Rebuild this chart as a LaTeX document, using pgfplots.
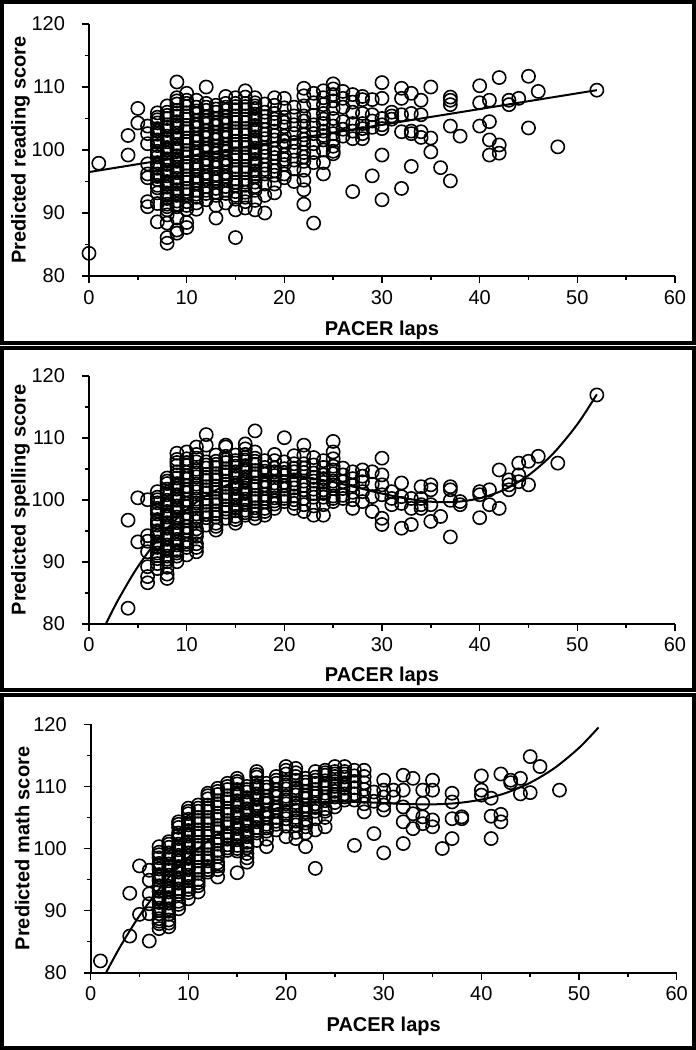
\documentclass[border=0pt]{standalone}
\usepackage{pgfplots}
\pgfplotsset{compat=1.18}
\usepackage{fontspec}
\setmainfont{Liberation Sans}

\pgfplotsset{panel/.style={
  scale only axis, width=293pt,
  xmin=0,xmax=60,ymin=80,ymax=120,
  axis lines=left, axis line style={-, line width=1pt},
  xtick={0,10,...,60}, ytick={80,90,...,120},
  minor x tick num=1, minor y tick num=1,
  tick align=outside, major tick length=3.5pt, minor tick length=2pt,
  tick style={line width=0.8pt, black},
  /pgf/number format/assume math mode=true,
  xticklabel={\fontsize{10}{11}\selectfont\pgfmathprintnumber{\tick}},
  yticklabel={\fontsize{10}{11}\selectfont\pgfmathprintnumber{\tick}},
  yticklabel style={xshift=-5pt},
  xlabel={PACER laps},
  label style={font=\bfseries\fontsize{10}{12}\selectfont},
  clip=false,
  xlabel style={at={(axis description cs:0.5,-0.214)},anchor=center},
  ylabel style={at={(axis description cs:-0.117,0.5)},anchor=center},
},
pts/.style={only marks, mark=o, mark size=3.3pt, mark options={line width=0.8pt, black}},
fit/.style={no marks, black, line width=1pt},
}

\begin{document}
\begin{tikzpicture}
\useasboundingbox (0,0) rectangle (348pt,-525pt);
\draw[line width=2pt] (1pt,-1pt) rectangle (347pt,-171.5pt);
\draw[line width=2pt] (1pt,-174pt) rectangle (347pt,-345pt);
\draw[line width=2pt] (1pt,-347.5pt) rectangle (347pt,-523.75pt);

% ---------------- Panel 1: reading ----------------
\begin{axis}[panel, at={(44.5pt,-138pt)}, anchor=south west, height=126pt,
  ylabel={Predicted reading score}]
\addplot[pts] coordinates {
(0,83.6)(1,97.9)(4,102.3)(4,99.2)(5,106.6)(5,104.3)
(6,103.8)(6,102.6)(6,101.0)(6,97.8)(6,96.2)(6,95.6)(6,91.8)(6,91.0)
(7,105.9)(7,105.2)(7,104.3)(7,103.4)(7,102.5)(7,101.6)(7,100.7)(7,99.8)(7,98.9)(7,98.0)(7,97.1)(7,96.2)(7,95.3)(7,94.4)(7,93.2)(7,91.5)(7,88.6)
(8,107.0)(8,106.0)(8,105.0)(8,104.0)(8,103.1)(8,102.2)(8,101.3)(8,100.4)(8,99.5)(8,98.6)(8,97.7)(8,96.8)(8,95.9)(8,95.0)(8,94.1)(8,93.2)(8,92.3)(8,91.4)(8,90.5)(8,89.7)(8,88.4)(8,86.1)(8,85.2)
(9,110.8)(9,108.3)(9,107.3)(9,106.3)(9,105.4)(9,104.5)(9,103.6)(9,102.7)(9,101.8)(9,100.9)(9,100.0)(9,99.1)(9,98.2)(9,97.3)(9,96.4)(9,95.5)(9,94.6)(9,93.7)(9,92.8)(9,91.9)(9,91.0)(9,89.2)(9,87.3)(9,86.8)
(10,109.0)(10,107.9)(10,106.9)(10,105.9)(10,104.9)(10,103.9)(10,102.9)(10,101.9)(10,100.9)(10,99.9)(10,98.9)(10,97.9)(10,96.9)(10,95.9)(10,94.9)(10,93.9)(10,92.9)(10,91.8)(10,90.6)(10,88.5)(10,87.7)
(11,107.9)(11,106.8)(11,105.7)(11,104.6)(11,103.5)(11,102.4)(11,101.3)(11,100.2)(11,99.1)(11,98.0)(11,96.9)(11,95.8)(11,94.7)(11,93.6)(11,92.5)(11,91.6)(11,90.6)
(12,110.0)(12,107.4)(12,106.3)(12,105.2)(12,104.1)(12,103.0)(12,101.9)(12,100.8)(12,99.7)(12,98.6)(12,97.5)(12,96.4)(12,95.3)(12,94.2)(12,93.1)(12,92.1)
(13,107.1)(13,106.0)(13,104.9)(13,103.8)(13,102.7)(13,101.6)(13,100.5)(13,99.4)(13,98.3)(13,97.2)(13,96.1)(13,95.0)(13,93.9)(13,92.8)(13,91.2)(13,89.2)
(14,108.5)(14,107.4)(14,106.3)(14,105.2)(14,104.1)(14,103.0)(14,101.9)(14,100.8)(14,99.7)(14,98.6)(14,97.5)(14,96.4)(14,95.3)(14,94.2)(14,93.1)(14,91.6)
(15,108.3)(15,107.4)(15,106.4)(15,105.4)(15,104.4)(15,103.4)(15,102.4)(15,101.4)(15,100.4)(15,99.4)(15,98.4)(15,97.4)(15,96.4)(15,95.4)(15,94.4)(15,93.4)(15,92.2)(15,90.5)(15,86.1)
(16,109.4)(16,108.4)(16,107.4)(16,106.4)(16,105.4)(16,104.4)(16,103.4)(16,102.4)(16,101.4)(16,100.4)(16,99.4)(16,98.4)(16,97.4)(16,96.4)(16,95.4)(16,94.4)(16,93.3)(16,91.8)(16,90.8)
(17,108.3)(17,107.5)(17,106.6)(17,105.7)(17,104.8)(17,103.9)(17,103.0)(17,102.1)(17,101.2)(17,100.3)(17,99.4)(17,98.5)(17,97.6)(17,96.7)(17,95.8)(17,94.9)(17,93.6)(17,92.0)(17,90.5)
(18,107.3)(18,106.0)(18,104.6)(18,103.2)(18,101.8)(18,100.4)(18,99.0)(18,97.6)(18,96.2)(18,94.6)(18,92.8)(18,90.0)
(19,108.3)(19,107.1)(19,105.8)(19,104.4)(19,103.0)(19,101.6)(19,100.2)(19,98.8)(19,97.4)(19,96.0)(19,94.6)(19,93.2)
(20,108.2)(20,106.7)(20,105.2)(20,103.7)(20,102.2)(20,100.7)(20,99.2)(20,97.7)(20,96.2)(20,95.6)
(21,106.8)(21,105.4)(21,104.0)(21,102.6)(21,101.2)(21,99.8)(21,98.4)(21,97.0)(21,95.0)
(22,109.8)(22,108.6)(22,107.0)(22,105.4)(22,103.8)(22,102.4)(22,101.0)(22,99.6)(22,98.2)(22,96.8)(22,95.2)(22,93.7)(22,91.4)
(23,109.0)(23,107.5)(23,105.5)(23,104.0)(23,102.6)(23,101.0)(23,99.6)(23,98.0)(23,88.4)
(24,109.4)(24,108.3)(24,107.2)(24,105.8)(24,104.2)(24,103.0)(24,101.6)(24,100.0)(24,98.0)(24,96.2)
(25,110.5)(25,109.7)(25,108.8)(25,107.8)(25,106.6)(25,105.0)(25,103.8)(25,102.6)(25,101.6)(25,100.6)(25,99.8)(25,99.4)
(26,109.3)(26,108.2)(26,106.8)(26,104.5)(26,103.3)(26,102.2)
(27,108.8)(27,107.6)(27,106.0)(27,104.2)(27,103.0)(27,101.8)(27,93.4)
(28,108.5)(28,108.0)(28,105.8)(28,104.2)(28,103.4)(28,102.6)(28,101.8)
(29,108.0)(29,105.6)(29,104.6)(29,103.6)(29,95.9)
(30,110.7)(30,108.2)(30,105.0)(30,104.0)(30,103.4)(30,99.2)(30,92.1)
(31,106.0)(31,105.4)(31,104.9)
(32,109.8)(32,108.2)(32,105.6)(32,102.9)(32,93.9)
(33,109.0)(33,105.8)(33,103.0)(33,102.6)(33,97.4)
(34,107.9)(34,105.6)(34,102.9)(34,102.0)
(35,110.0)(35,101.9)(35,99.7)(36,97.2)
(37,108.4)(37,107.9)(37,107.2)(37,103.8)(37,95.1)(38,102.2)
(40,110.2)(40,107.5)(40,103.8)
(41,107.9)(41,104.5)(41,101.6)(41,99.2)
(42,111.5)(42,100.8)(42,99.5)
(43,107.9)(43,107.2)(44,108.2)(45,111.7)(45,103.5)(46,109.3)(48,100.5)(52,109.5)
};
\addplot[pts] coordinates {
(7,104.8)(7,103.0)(7,101.2)(7,99.4)(7,97.6)(7,95.8)(7,94.0)
(8,105.5)(8,103.6)(8,101.8)(8,100.0)(8,98.2)(8,96.4)(8,94.6)(8,92.8)(8,91.0)
(9,107.8)(9,105.9)(9,104.0)(9,102.2)(9,100.4)(9,98.6)(9,96.8)(9,95.0)(9,93.2)(9,91.4)
(10,107.4)(10,105.4)(10,103.4)(10,101.4)(10,99.4)(10,97.4)(10,95.4)(10,93.4)(10,91.2)
(11,106.2)(11,104.0)(11,101.8)(11,99.6)(11,97.4)(11,95.2)(11,93.0)
(12,106.8)(12,104.6)(12,102.4)(12,100.2)(12,98.0)(12,95.8)(12,93.6)
(13,106.5)(13,104.3)(13,102.1)(13,99.9)(13,97.7)(13,95.5)(13,93.3)
(14,106.8)(14,104.6)(14,102.4)(14,100.2)(14,98.0)(14,95.8)(14,93.6)
(15,106.9)(15,104.9)(15,102.9)(15,100.9)(15,98.9)(15,96.9)(15,94.9)(15,92.8)
(16,106.9)(16,104.9)(16,102.9)(16,100.9)(16,98.9)(16,96.9)(16,94.9)(16,92.5)
(17,107.0)(17,105.2)(17,103.4)(17,101.6)(17,99.8)(17,98.0)(17,96.2)(17,94.2)
(18,105.3)(18,102.5)(18,99.7)(18,96.9)
(19,104.9)(19,102.3)(19,99.5)(19,96.7)
(20,104.4)(20,101.4)(20,98.5)
(22,104.6)(22,101.7)(22,98.9)
(24,104.9)(24,102.3)
};
\addplot[fit] coordinates {(0,96.5)(52,109.5)};
\end{axis}

% ---------------- Panel 2: spelling ----------------
\begin{axis}[panel, at={(44.5pt,-311.85pt)}, anchor=south west, height=124pt,
  ylabel={Predicted spelling score}]
\addplot[pts] coordinates {
(4,96.7)(4,82.5)(5,100.3)(5,93.2)
(6,100.0)(6,94.2)(6,93.3)(6,91.6)(6,89.2)(6,87.6)(6,86.6)
(7,101.3)(7,100.4)(7,99.5)(7,98.6)(7,97.7)(7,96.8)(7,95.9)(7,95.0)(7,94.1)(7,93.2)(7,92.3)(7,91.4)(7,90.5)(7,89.7)(7,88.9)
(8,103.5)(8,102.6)(8,101.7)(8,100.8)(8,99.9)(8,99.0)(8,98.1)(8,97.2)(8,96.3)(8,95.4)(8,94.5)(8,93.6)(8,92.7)(8,91.8)(8,90.9)(8,90.0)(8,89.1)(8,88.0)(8,87.3)
(9,107.5)(9,106.5)(9,105.5)(9,104.5)(9,103.5)(9,102.6)(9,101.7)(9,100.8)(9,99.9)(9,99.0)(9,98.1)(9,97.2)(9,96.3)(9,95.4)(9,94.5)(9,93.6)(9,92.7)(9,91.8)(9,90.9)(9,90.0)
(10,107.7)(10,106.6)(10,105.5)(10,104.4)(10,103.3)(10,102.2)(10,101.1)(10,100.0)(10,98.9)(10,97.8)(10,96.7)(10,95.6)(10,94.5)(10,93.4)(10,92.3)(10,91.1)
(11,108.5)(11,107.3)(11,106.1)(11,104.9)(11,103.7)(11,102.5)(11,101.3)(11,100.1)(11,98.9)(11,97.7)(11,96.5)(11,95.3)(11,94.1)(11,92.9)(11,91.6)
(12,110.5)(12,108.8)(12,106.1)(12,105.1)(12,104.1)(12,103.1)(12,102.1)(12,101.1)(12,100.1)(12,99.1)(12,98.1)(12,97.1)(12,95.9)
(13,107.2)(13,106.2)(13,105.2)(13,104.2)(13,103.2)(13,102.2)(13,101.2)(13,100.2)(13,99.2)(13,98.2)(13,97.2)(13,96.2)(13,95.1)
(14,108.8)(14,108.5)(14,107.0)(14,106.0)(14,105.0)(14,104.0)(14,103.0)(14,102.0)(14,101.0)(14,100.0)(14,99.0)(14,98.0)(14,97.0)
(15,107.2)(15,106.3)(15,105.4)(15,104.5)(15,103.6)(15,102.7)(15,101.8)(15,100.9)(15,100.0)(15,99.1)(15,98.2)(15,97.3)(15,96.2)
(16,109.0)(16,108.2)(16,107.3)(16,106.4)(16,105.5)(16,104.6)(16,103.7)(16,102.8)(16,101.9)(16,101.0)(16,100.1)(16,99.2)(16,98.3)(16,97.5)
(17,111.1)(17,107.7)(17,106.7)(17,105.7)(17,104.7)(17,103.7)(17,102.7)(17,101.7)(17,100.7)(17,99.7)(17,98.7)(17,97.7)(17,97.0)
(18,106.3)(18,105.2)(18,104.1)(18,103.0)(18,101.9)(18,100.8)(18,99.7)(18,98.6)(18,97.5)
(19,107.3)(19,106.3)(19,105.1)(19,103.9)(19,102.7)(19,101.5)(19,100.3)(19,99.3)(19,98.6)
(20,110.0)(20,106.1)(20,105.0)(20,103.9)(20,102.8)(20,101.7)(20,100.6)(20,99.7)
(21,107.1)(21,105.8)(21,104.5)(21,103.2)(21,101.9)(21,100.6)(21,99.4)(21,98.6)
(22,108.8)(22,107.2)(22,105.8)(22,104.4)(22,103.0)(22,101.6)(22,100.2)(22,98.1)
(23,106.8)(23,105.6)(23,104.3)(23,103.0)(23,101.7)(23,100.4)(23,99.0)(23,97.5)
(24,106.3)(24,105.2)(24,104.0)(24,102.8)(24,101.6)(24,100.4)(24,99.2)(24,97.5)
(25,109.4)(25,107.7)(25,106.6)(25,105.4)(25,104.2)(25,103.0)(25,101.8)(25,100.6)(25,99.7)
(26,105.1)(26,104.0)(26,102.9)(26,101.8)(26,100.7)(26,100.2)
(27,104.5)(27,103.4)(27,102.3)(27,101.2)(27,100.0)(27,98.6)
(28,104.8)(28,103.8)(28,102.9)(28,101.3)(28,99.7)
(29,104.5)(29,102.5)(29,100.5)(29,98.1)
(30,106.7)(30,104.0)(30,102.4)(30,100.8)(30,97.0)(30,96.0)
(31,101.3)(31,100.2)(31,99.2)
(32,102.7)(32,100.5)(32,99.4)(32,95.4)
(33,100.2)(33,98.6)(33,96.0)
(34,102.1)(34,100.2)(34,99.2)(34,98.6)
(35,102.4)(35,101.6)(35,99.2)(35,96.5)(36,97.3)
(37,102.1)(37,101.6)(37,99.9)(37,94.0)(38,99.7)(38,99.2)
(40,101.3)(40,100.8)(40,97.1)(41,101.6)(41,99.2)(42,104.8)(42,98.6)
(43,103.2)(43,102.4)(43,101.6)(44,105.9)(44,104.0)(44,102.9)
(45,106.2)(45,102.4)(46,107.0)(48,105.9)(52,116.9)
};
\addplot[pts] coordinates {
(7,100.0)(7,98.2)(7,96.4)(7,94.6)(7,92.8)(7,91.0)
(8,103.0)(8,101.2)(8,99.4)(8,97.6)(8,95.8)(8,94.0)(8,92.2)(8,90.4)
(9,106.0)(9,104.0)(9,102.2)(9,100.4)(9,98.6)(9,96.8)(9,95.0)(9,93.2)(9,91.4)
(10,106.0)(10,103.8)(10,101.6)(10,99.4)(10,97.2)(10,95.0)(10,92.8)
(11,106.7)(11,104.3)(11,101.9)(11,99.5)(11,97.1)(11,94.7)(11,92.3)
(12,105.6)(12,103.6)(12,101.6)(12,99.6)(12,97.6)
(13,105.7)(13,103.7)(13,101.7)(13,99.7)(13,97.7)(13,95.7)
(14,106.5)(14,104.5)(14,102.5)(14,100.5)(14,98.5)
(15,105.9)(15,104.0)(15,102.2)(15,100.4)(15,98.6)(15,96.8)
(16,106.8)(16,105.0)(16,103.2)(16,101.4)(16,99.6)(16,97.9)
(17,106.2)(17,104.2)(17,102.2)(17,100.2)(17,98.2)
(18,104.6)(18,102.4)(18,100.2)(18,98.1)
(19,104.5)(19,102.1)(19,99.8)
(20,104.4)(20,102.2)(20,100.2)
(21,105.1)(21,102.5)(21,100.0)
(22,105.1)(22,102.3)(22,99.2)
(23,103.6)(23,101.0)(24,103.4)(24,101.0)
(25,104.8)(25,102.4)(25,100.2)
};
\addplot[fit, smooth] coordinates {
(1.74,80)(3,83.88)(5,89.19)(7.5,94.47)(10,98.40)(12.5,101.15)(15,102.87)(17.5,103.73)(20,103.91)(22.5,103.55)(25,102.84)(27.5,101.94)(30,100.99)(32.5,100.19)(35,99.68)(37.5,99.64)(40,100.23)(42.5,101.6)(45,103.94)(47.5,107.40)(50,112.16)(52,117.0)
};
\end{axis}

% ---------------- Panel 3: math ----------------
\begin{axis}[panel, at={(45.35pt,-486.35pt)}, anchor=south west, height=124.2pt,
  ylabel={Predicted math score}]
\addplot[pts] coordinates {
(1,81.9)(4,92.8)(4,85.9)(5,97.2)(5,89.4)
(6,96.5)(6,94.9)(6,92.7)(6,91.1)(6,89.5)(6,85.1)
(7,100.3)(7,99.4)(7,98.5)(7,97.6)(7,96.7)(7,95.8)(7,94.9)(7,94.0)(7,93.1)(7,92.2)(7,91.3)(7,90.4)(7,89.5)(7,88.7)(7,87.9)(7,87.1)
(8,101.1)(8,100.2)(8,99.3)(8,98.4)(8,97.5)(8,96.6)(8,95.7)(8,94.8)(8,93.9)(8,93.0)(8,92.1)(8,91.2)(8,90.3)(8,89.4)(8,88.5)(8,87.4)
(9,104.3)(9,103.4)(9,102.5)(9,101.6)(9,100.7)(9,99.8)(9,98.9)(9,98.0)(9,97.1)(9,96.2)(9,95.3)(9,94.4)(9,93.5)(9,92.6)(9,91.5)(9,90.3)
(10,106.5)(10,105.6)(10,104.7)(10,103.8)(10,102.9)(10,102.0)(10,101.1)(10,100.2)(10,99.3)(10,98.4)(10,97.5)(10,96.6)(10,95.7)(10,94.8)(10,93.9)(10,92.9)(10,91.9)
(11,107.0)(11,106.0)(11,105.0)(11,104.0)(11,103.0)(11,102.0)(11,101.0)(11,100.0)(11,99.0)(11,98.0)(11,97.0)(11,96.0)(11,95.0)(11,94.0)(11,93.0)
(12,108.9)(12,108.0)(12,107.0)(12,106.0)(12,105.0)(12,104.0)(12,103.0)(12,102.0)(12,101.0)(12,100.0)(12,99.0)(12,98.0)(12,97.1)(12,96.2)
(13,109.7)(13,108.7)(13,107.7)(13,106.7)(13,105.7)(13,104.7)(13,103.7)(13,102.7)(13,101.7)(13,100.7)(13,99.7)(13,98.7)(13,97.7)(13,96.6)(13,95.4)
(14,110.5)(14,109.5)(14,108.5)(14,107.5)(14,106.5)(14,105.5)(14,104.5)(14,103.5)(14,102.5)(14,101.5)(14,100.6)(14,99.7)
(15,111.3)(15,110.4)(15,109.5)(15,108.6)(15,107.7)(15,106.8)(15,105.9)(15,105.0)(15,104.1)(15,103.2)(15,102.3)(15,101.4)(15,100.5)(15,99.6)(15,96.1)
(16,110.0)(16,109.1)(16,108.2)(16,107.3)(16,106.4)(16,105.5)(16,104.6)(16,103.7)(16,102.8)(16,101.9)(16,101.0)(16,100.1)(16,99.2)(16,97.8)
(17,112.4)(17,111.5)(17,110.6)(17,109.7)(17,108.8)(17,107.9)(17,107.0)(17,106.1)(17,105.2)(17,104.3)(17,103.4)(17,102.5)(17,101.3)
(18,110.5)(18,109.4)(18,108.3)(18,107.2)(18,106.1)(18,105.0)(18,103.9)(18,102.8)(18,101.5)(18,100.3)
(19,111.6)(19,110.5)(19,109.4)(19,108.3)(19,107.2)(19,106.1)(19,105.0)(19,103.9)(19,103.0)
(20,113.2)(20,112.0)(20,110.8)(20,109.6)(20,108.4)(20,107.2)(20,106.0)(20,104.8)(20,103.6)(20,101.9)
(21,112.9)(21,112.2)(21,111.0)(21,109.8)(21,108.6)(21,107.4)(21,106.2)(21,105.0)(21,103.8)(21,102.6)(21,101.6)
(22,111.3)(22,110.2)(22,109.1)(22,108.0)(22,106.9)(22,105.8)(22,104.7)(22,103.5)(22,102.5)(22,100.3)
(23,112.4)(23,111.5)(23,110.5)(23,109.5)(23,108.4)(23,107.2)(23,106.0)(23,104.8)(23,103.0)(23,96.8)
(24,112.6)(24,111.8)(24,110.9)(24,109.9)(24,108.9)(24,107.7)(24,106.4)(24,105.0)(24,103.5)
(25,113.2)(25,112.4)(25,111.6)(25,110.8)(25,110.0)(25,109.2)(25,108.3)(25,107.4)(25,106.7)
(26,113.2)(26,112.4)(26,111.5)(26,110.6)(26,109.7)(26,108.8)(26,107.8)
(27,112.6)(27,111.7)(27,110.8)(27,109.8)(27,108.8)(27,107.8)(27,100.5)
(28,112.6)(28,111.6)(28,110.6)(28,109.5)(28,108.4)(28,107.2)(28,105.9)
(29,109.1)(29,107.6)(29,102.4)
(30,111.0)(30,109.4)(30,108.3)(30,107.0)(30,106.2)(30,99.3)
(31,109.4)(31,108.3)
(32,111.8)(32,109.4)(32,106.7)(32,104.3)(32,100.8)
(33,111.3)(33,105.6)(33,103.2)
(34,109.4)(34,107.3)(34,105.1)(34,104.0)
(35,111.0)(35,109.4)(35,104.6)(35,103.5)(36,100.0)
(37,108.9)(37,107.5)(37,104.8)(37,101.6)(38,105.1)(38,104.8)
(40,111.7)(40,109.4)(40,108.6)(41,108.1)(41,105.2)(41,101.6)
(42,112.0)(42,105.5)(42,104.3)(43,111.0)(43,110.6)(44,111.3)(44,108.8)
(45,114.8)(45,109.0)(46,113.2)(48,109.4)
};
\addplot[pts] coordinates {
(7,99.0)(7,97.2)(7,95.4)(7,93.6)(7,91.8)(7,90.0)(7,88.3)
(8,100.7)(8,98.9)(8,97.1)(8,95.3)(8,93.5)(8,91.7)(8,89.9)(8,88.0)
(9,103.9)(9,102.1)(9,100.3)(9,98.5)(9,96.7)(9,94.9)(9,93.1)(9,91.0)
(10,106.0)(10,104.2)(10,102.4)(10,100.6)(10,98.8)(10,97.0)(10,95.2)(10,93.4)
(11,106.5)(11,104.5)(11,102.5)(11,100.5)(11,98.5)(11,96.5)(11,94.5)
(12,108.5)(12,106.5)(12,104.5)(12,102.5)(12,100.5)(12,98.5)(12,96.6)
(13,109.2)(13,107.2)(13,105.2)(13,103.2)(13,101.2)(13,99.2)(13,97.2)
(14,110.0)(14,108.0)(14,106.0)(14,104.0)(14,102.0)(14,100.1)
(15,110.8)(15,109.0)(15,107.2)(15,105.4)(15,103.6)(15,101.8)(15,100.0)
(16,109.5)(16,107.7)(16,105.9)(16,104.1)(16,102.3)(16,100.5)(16,98.5)
(17,111.9)(17,110.1)(17,108.3)(17,106.5)(17,104.7)(17,102.9)
(18,109.9)(18,107.7)(18,105.5)(18,103.3)
(19,111.0)(19,108.8)(19,106.6)(19,104.4)
(20,112.6)(20,110.2)(20,107.8)(20,105.4)
(21,111.6)(21,109.2)(21,106.8)(21,104.4)
(22,110.7)(22,108.5)(22,106.3)(22,104.1)
(23,111.0)(23,108.9)(23,106.6)
(24,112.2)(24,110.4)(24,108.3)(24,106.0)
(25,112.0)(25,110.4)(25,108.7)
(26,112.0)(26,110.2)(26,108.3)
};
\addplot[fit, smooth] coordinates {
(1.57,80)(3,84.13)(5,89.19)(7.5,94.43)(10,98.59)(12.5,101.79)(15,104.14)(17.5,105.78)(20,106.80)(22.5,107.35)(25,107.54)(27.5,107.49)(30,107.32)(32.5,107.16)(35,107.11)(37.5,107.31)(40,107.88)(42.5,108.94)(45,110.6)(47.5,112.97)(50,116.21)(52,119.5)
};
\end{axis}
\end{tikzpicture}
\end{document}
